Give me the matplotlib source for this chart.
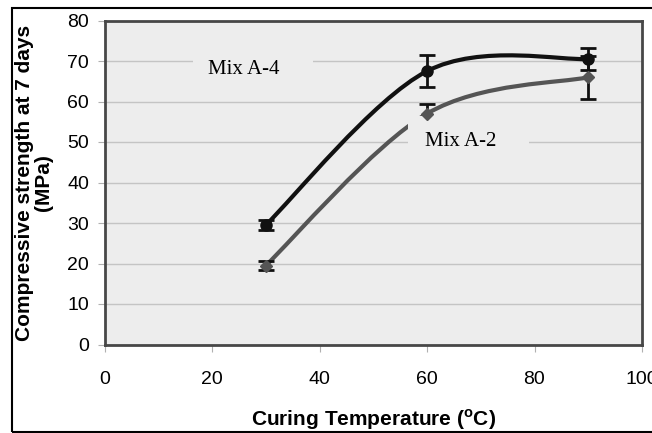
import numpy as np
import matplotlib
matplotlib.use("Agg")
import matplotlib.pyplot as plt
from matplotlib.path import Path
from matplotlib.patches import PathPatch, Rectangle

plt.rcParams['font.family'] = 'Liberation Sans'
plt.rcParams['mathtext.fontset'] = 'custom'
plt.rcParams['mathtext.rm'] = 'Liberation Sans:bold'
plt.rcParams['mathtext.bf'] = 'Liberation Sans:bold'

# data
temp = [30, 60, 90]
mix_a4 = [29.5, 67.5, 70.5]
mix_a4_err = [1.3, 4.0, 2.7]
mix_a2 = [19.5, 57.0, 66.0]
mix_a2_err = [1.0, 2.3, 5.3]


def smooth_path(xs, ys):
    # excel-style smoothed line: bezier segments through the points
    p = np.column_stack([xs, ys]).astype(float)
    n = len(p)
    verts = [p[0]]
    codes = [Path.MOVETO]
    for i in range(n - 1):
        prev = p[i - 1] if i > 0 else p[i]
        nxt = p[i + 2] if i + 2 < n else p[i + 1]
        c1 = p[i] + (p[i + 1] - prev) / 6
        c2 = p[i + 1] - (nxt - p[i]) / 6
        verts += [c1, c2, p[i + 1]]
        codes += [Path.CURVE4] * 3
    return Path(verts, codes)


fig = plt.figure(figsize=(6.52, 4.33), dpi=100)
W, H = 652, 433
ax = fig.add_axes([104.5 / W, 1 - 344.5 / H, (642 - 104.5) / W, (344.5 - 20.5) / H])
ax.set_facecolor('#ededed')

# outer frame around the whole chart
fig.patches.append(Rectangle((12 / W, 1 - 432 / H), 700 / W, 424 / H, transform=fig.transFigure,
                             fill=False, edgecolor='black', linewidth=1.5))

ax.set_xlim(0, 100)
ax.set_ylim(0, 80)
ax.set_xticks(range(0, 101, 20))
ax.set_yticks(range(0, 81, 10))
ax.yaxis.grid(True, color='#c4c4c4', linewidth=1)
ax.set_axisbelow(True)
for s in ax.spines.values():
    s.set_color('#474747')
    s.set_linewidth(2)
ax.tick_params(axis='both', direction='out', length=5, color='#b0b0b0', labelsize=14, pad=6)
ax.tick_params(axis='x', pad=14)

# curves
ax.add_patch(PathPatch(smooth_path(temp, mix_a4), facecolor='none', edgecolor='#111111',
                       linewidth=3, zorder=3, capstyle='butt'))
ax.add_patch(PathPatch(smooth_path(temp, mix_a2), facecolor='none', edgecolor='#555555',
                       linewidth=3, zorder=3, capstyle='butt'))

ax.errorbar(temp, mix_a4, yerr=mix_a4_err, fmt='none', ecolor='#111111', elinewidth=2,
            capsize=6, capthick=2, zorder=4)
ax.errorbar(temp, mix_a2, yerr=mix_a2_err, fmt='none', ecolor='#111111', elinewidth=2,
            capsize=6, capthick=2, zorder=4)

# label boxes hide the lines behind them
ax.add_patch(Rectangle((16.5, 61.7), 22.3, 12.4, facecolor='#ededed', edgecolor='none', zorder=5))
ax.add_patch(Rectangle((56.5, 43.7), 22.5, 12.6, facecolor='#ededed', edgecolor='none', zorder=5))

ax.plot(temp, mix_a4, 'o', color='#111111', markersize=8, zorder=6)
ax.plot(temp, mix_a2, 'D', color='#555555', markersize=6, zorder=6)

ax.text(26, 68, 'Mix A-4', family='Liberation Serif', fontsize=15, ha='center', va='center', zorder=7)
ax.text(66.3, 50, 'Mix A-2', family='Liberation Serif', fontsize=15, ha='center', va='center', zorder=7)

ax.set_ylabel('Compressive strength at 7 days\n(MPa)', fontsize=15, fontweight='bold', linespacing=1.05,
              labelpad=10)
ax.set_xlabel(r'Curing Temperature ($^{\mathrm{o}}$C)', fontsize=15, fontweight='bold', labelpad=14)

fig.savefig('out.png', dpi=100)
